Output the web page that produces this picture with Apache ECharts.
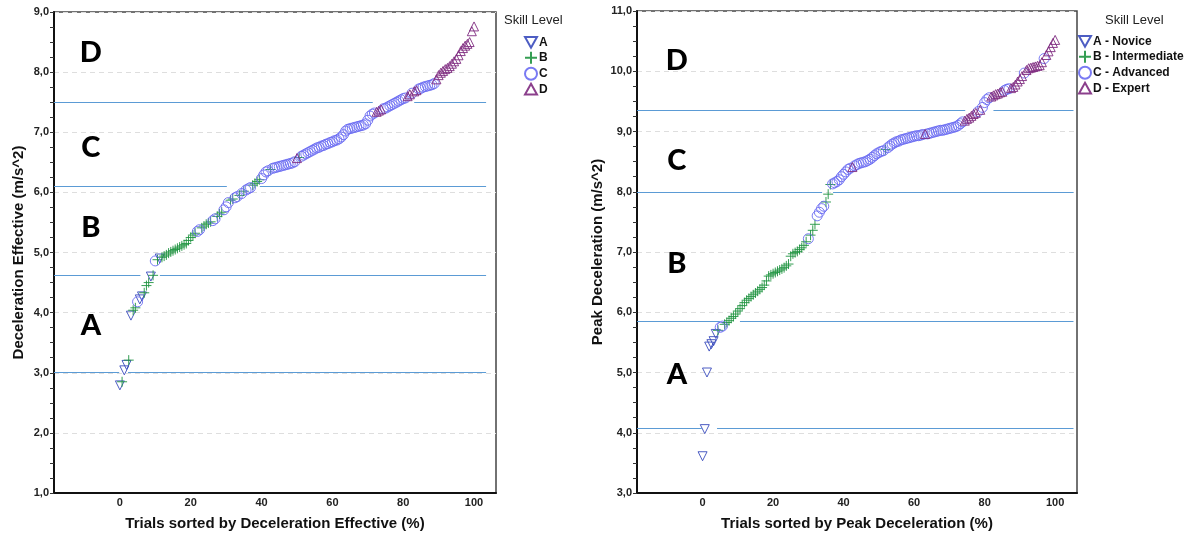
<!DOCTYPE html>
<html>
<head>
<meta charset="utf-8">
<title>Skill level thresholds</title>
<script src="https://cdn.jsdelivr.net/npm/echarts@6/dist/echarts.min.js"></script>
<style>
  html, body { margin: 0; padding: 0; background: #fff; }
  #chart { width: 1192px; height: 537px; }
</style>
</head>
<body>
<div id="chart"></div>
<script>
// ---- Data: trials sorted ascending; x is the trial's percent rank ----
const effValues = [
  2.79, 2.85, 3.04, 3.13, 3.21, 3.95, 4.04, 4.08, 4.18, 4.22,
  4.27, 4.33, 4.45, 4.50, 4.60, 4.62, 4.86, 4.88, 4.90, 4.92,
  4.94, 4.96, 4.99, 5.01, 5.03, 5.05, 5.07, 5.09, 5.11, 5.13,
  5.15, 5.20, 5.25, 5.29, 5.32, 5.35, 5.38, 5.41, 5.44, 5.47,
  5.49, 5.51, 5.53, 5.56, 5.60, 5.64, 5.67, 5.71, 5.76, 5.83,
  5.87, 5.89, 5.91, 5.93, 5.95, 5.98, 6.02, 6.04, 6.06, 6.08,
  6.12, 6.15, 6.18, 6.21, 6.23, 6.29, 6.34, 6.36, 6.38, 6.40,
  6.41, 6.42, 6.43, 6.44, 6.45, 6.46, 6.47, 6.48, 6.49, 6.51,
  6.57, 6.58, 6.60, 6.62, 6.64, 6.66, 6.68, 6.70, 6.72, 6.74,
  6.75, 6.77, 6.78, 6.80, 6.81, 6.83, 6.84, 6.86, 6.87, 6.89,
  6.92, 6.96, 7.02, 7.05, 7.06, 7.07, 7.08, 7.09, 7.10, 7.11,
  7.12, 7.14, 7.20, 7.27, 7.30, 7.32, 7.34, 7.36, 7.38, 7.39,
  7.40, 7.42, 7.44, 7.46, 7.48, 7.50, 7.52, 7.54, 7.56, 7.57,
  7.60, 7.63, 7.65, 7.68, 7.70, 7.72, 7.73, 7.75, 7.76, 7.77,
  7.78, 7.79, 7.81, 7.88, 7.95, 7.99, 8.02, 8.05, 8.07, 8.10,
  8.14, 8.18, 8.22, 8.28, 8.35, 8.40, 8.44, 8.47, 8.50, 8.68,
  8.76
];
const effLevels = [
  'ABAAB', 'ABBCAABBBAB', 'CBA', 'BBBBBBBBBBBBBBBB', 'CC', 'BBBBB', 'CC', 'BBB',
  'CCC', 'BB', 'CC', 'BCB', 'CCC', 'BBBB', 'CCCC', 'B', 'CCCCCCCCCCC', 'DB',
  'CCCCCCCCCCCCCCCCCCCCCCCCCCCCCCCCCC', 'DDD', 'CCCCCCCCCCC', 'DDCDD', 'CCCCCCCC',
  'DDDDDDDDDDDDDDDDDD'
].join('');

const peakValues = [
  3.61, 4.06, 5.00, 5.43, 5.47, 5.52, 5.64, 5.70, 5.75, 5.77,
  5.80, 5.83, 5.86, 5.90, 5.93, 5.97, 6.02, 6.06, 6.11, 6.16,
  6.20, 6.23, 6.26, 6.29, 6.32, 6.35, 6.38, 6.41, 6.45, 6.52,
  6.60, 6.62, 6.64, 6.66, 6.68, 6.70, 6.72, 6.74, 6.77, 6.80,
  6.93, 6.97, 6.99, 7.01, 7.04, 7.07, 7.11, 7.17, 7.22, 7.28,
  7.36, 7.46, 7.60, 7.66, 7.72, 7.76, 7.83, 7.96, 8.12, 8.13,
  8.15, 8.17, 8.20, 8.25, 8.29, 8.33, 8.37, 8.39, 8.41, 8.43,
  8.45, 8.47, 8.48, 8.49, 8.50, 8.52, 8.54, 8.57, 8.60, 8.63,
  8.65, 8.67, 8.68, 8.70, 8.73, 8.76, 8.79, 8.81, 8.83, 8.84,
  8.86, 8.87, 8.88, 8.89, 8.90, 8.91, 8.92, 8.93, 8.93, 8.94,
  8.95, 8.96, 8.96, 8.97, 8.98, 8.99, 9.00, 9.01, 9.02, 9.02,
  9.03, 9.04, 9.05, 9.06, 9.07, 9.08, 9.10, 9.13, 9.16, 9.18,
  9.21, 9.23, 9.26, 9.29, 9.31, 9.33, 9.36, 9.40, 9.48, 9.53,
  9.56, 9.58, 9.60, 9.62, 9.63, 9.65, 9.66, 9.68, 9.70, 9.71,
  9.72, 9.74, 9.78, 9.83, 9.87, 9.92, 9.97, 10.02, 10.05, 10.06,
  10.07, 10.08, 10.09, 10.10, 10.15, 10.21, 10.27, 10.33, 10.40, 10.47,
  10.52
];
const peakLevels = [
  'AAAAAAA', 'B', 'CC', 'BBBBBBBBBBBBBBBBBBBBBBBBBBBBBBBBBBBBBB', 'C', 'BBB', 'CCCC', 'BBB',
  'CCCCCCCCC', 'D', 'CCCCCCCCCCCCCC', 'B', 'CCCCCCCCCCCCCCCCC', 'D', 'CCCCCCCCCCCCCCCCC',
  'DDDDDD', 'C', 'D', 'CCCC', 'DDDDDD', 'CCC', 'DDDDDD', 'C', 'DDDDDDDD', 'C', 'DDDDD'
].join('');

// Skill level codes and their legend names in each panel
const levelCodes = ['A', 'B', 'C', 'D'];
const effLegendNames = ['A', 'B', 'C', 'D'];
const peakLegendNames = ['A - Novice', 'B - Intermediate', 'C - Advanced', 'D - Expert'];

// Cut-off values separating the skill bands
const effCutoffs = [3.01, 4.62, 6.10, 7.50];
const peakCutoffs = [4.07, 5.85, 8.00, 9.35];

// Tick labels
const xTicks = [0, 20, 40, 60, 80, 100];

// ---- Styling ----
const levelStyle = {
  A: { symbol: 'path://M0,0L10,0L5,9Z', color: '#3a4bbd', size: 9 },
  B: { symbol: 'path://M5,0L5,10M0,5L10,5', color: '#1f9440', size: 10 },
  C: { symbol: 'circle', color: '#6a6cf2', size: 10 },
  D: { symbol: 'path://M5,0L10,9L0,9Z', color: '#7e2a80', size: 9 }
};
const refLineColor = '#5b9bd5';
const X_MIN = -18.6, X_MAX = 106.2;

// Where each cut-off line is interrupted (percent-rank units)
const effGaps = [[-0.2, 2.3], [5.8, 11.3], [30.2, 39.5], [71.4, 83.1]];
const effLineEnd = 103.4;
const peakGaps = [[-0.2, 4.1], [4.9, 10.6], [33.9, 37.0], [74.5, 82.5]];
const peakLineEnd = 105.2;

// Band letters: data-space anchor for each panel
const bandLetterX = { eff: -8.2, peak: -7.3 };
const effBandY = [3.79, 5.42, 6.75, 8.32];
const peakBandY = [4.96, 6.81, 8.52, 10.18];

function rankPoints(values, levels, code) {
  const n = values.length;
  const pts = [];
  for (let i = 0; i < n; i++) {
    if (levels[i] === code) pts.push([i * 100 / (n - 1), values[i]]);
  }
  return pts;
}

function levelSeries(values, levels, names, axisIdx) {
  return levelCodes.map((code, k) => {
    const st = levelStyle[code];
    return {
      type: 'scatter',
      name: names[k],
      xAxisIndex: axisIdx,
      yAxisIndex: axisIdx,
      symbol: st.symbol,
      symbolSize: st.size,
      z: 3,
      itemStyle: { color: 'rgba(255,255,255,0)', borderColor: st.color, borderWidth: 1, opacity: 0.9 },
      data: rankPoints(values, levels, code)
    };
  });
}

function cutoffSeries(cutoffs, gaps, lineEnd, axisIdx) {
  const segs = [];
  cutoffs.forEach((v, k) => {
    const g = gaps[k];
    segs.push([{ coord: [X_MIN, v] }, { coord: [g[0], v] }]);
    segs.push([{ coord: [g[1], v] }, { coord: [lineEnd, v] }]);
  });
  return {
    type: 'scatter',
    xAxisIndex: axisIdx,
    yAxisIndex: axisIdx,
    data: [],
    silent: true,
    z: 1,
    markLine: {
      silent: true,
      symbol: ['none', 'none'],
      label: { show: false },
      lineStyle: { color: refLineColor, width: 1.2, type: 'solid' },
      data: segs
    }
  };
}

function bandLetterSeries(xv, ys, axisIdx) {
  return {
    type: 'scatter',
    xAxisIndex: axisIdx,
    yAxisIndex: axisIdx,
    symbolSize: 0,
    silent: true,
    z: 2,
    itemStyle: { opacity: 1 },
    label: {
      show: true,
      position: 'inside',
      formatter: p => p.name,
      fontFamily: 'Lato',
      fontWeight: 900,
      fontSize: 29,
      color: '#000',
      opacity: 1,
      textBorderWidth: 0,
      textBorderColor: 'transparent'
    },
    data: levelCodes.map((c, k) => ({ name: c, value: [xv, ys[k]] }))
  };
}

const axisFont = { fontFamily: 'Liberation Sans', fontWeight: 'bold' };
const fmtComma = v => v.toFixed(1).replace('.', ',');

function xAxisCfg(gridIndex, name) {
  return {
    type: 'value', gridIndex, min: X_MIN, max: X_MAX,
    name, nameLocation: 'middle', nameGap: 23,
    nameTextStyle: Object.assign({ fontSize: 15, color: '#111' }, axisFont),
    axisLine: { show: true, onZero: false, lineStyle: { color: '#111', width: 2 } },
    axisTick: { show: false },
    splitLine: { show: false },
    axisLabel: Object.assign({ customValues: xTicks, fontSize: 11, color: '#222', margin: 4 }, axisFont)
  };
}

function yAxisCfg(gridIndex, min, max, name, gap) {
  return {
    type: 'value', gridIndex, min, max, interval: 1,
    name, nameLocation: 'middle', nameGap: gap,
    nameTextStyle: Object.assign({ fontSize: 15, color: '#111' }, axisFont),
    axisLine: { show: true, onZero: false, lineStyle: { color: '#111', width: 2 } },
    axisTick: { show: true, length: 4, lineStyle: { color: '#333' } },
    minorTick: { show: true, splitNumber: 4, length: 4, lineStyle: { color: '#333' } },
    splitLine: { show: true, lineStyle: { color: '#dedede', type: [5, 4], width: 1 } },
    axisLabel: Object.assign({ formatter: fmtComma, fontSize: 11, color: '#222', margin: 5 }, axisFont)
  };
}

function legendCfg(names, left, top) {
  return {
    data: names, orient: 'vertical', left, top,
    itemWidth: 12, itemHeight: 12, itemGap: 2, padding: 0,
    selectedMode: false,
    textStyle: { fontFamily: 'Liberation Sans', fontWeight: 'bold', fontSize: 12, color: '#111', padding: [0, 0, 0, -3] }
  };
}

const chart = echarts.init(document.getElementById('chart'), null, { renderer: 'canvas' });
chart.setOption({
  animation: false,
  backgroundColor: '#fff',
  title: [
    { text: 'Skill Level', left: 504, top: 14, padding: 0,
      textStyle: { fontFamily: 'Liberation Sans', fontSize: 13, fontWeight: 'normal', color: '#222' } },
    { text: 'Skill Level', left: 1105, top: 14, padding: 0,
      textStyle: { fontFamily: 'Liberation Sans', fontSize: 13, fontWeight: 'normal', color: '#222' } }
  ],
  legend: [
    legendCfg(effLegendNames, 524, 36),
    legendCfg(peakLegendNames, 1078, 35)
  ],
  grid: [
    { left: 54, top: 12, width: 442, height: 481, show: true, borderColor: '#444', borderWidth: 1.5, backgroundColor: 'transparent' },
    { left: 637, top: 11, width: 440, height: 482, show: true, borderColor: '#444', borderWidth: 1.5, backgroundColor: 'transparent' }
  ],
  xAxis: [
    xAxisCfg(0, 'Trials sorted by Deceleration Effective (%)'),
    xAxisCfg(1, 'Trials sorted by Peak Deceleration (%)')
  ],
  yAxis: [
    yAxisCfg(0, 1, 9, 'Deceleration Effective (m/s^2)', 28),
    yAxisCfg(1, 3, 11, 'Peak Deceleration (m/s^2)', 32)
  ],
  series: [
    cutoffSeries(effCutoffs, effGaps, effLineEnd, 0),
    cutoffSeries(peakCutoffs, peakGaps, peakLineEnd, 1),
    bandLetterSeries(bandLetterX.eff, effBandY, 0),
    bandLetterSeries(bandLetterX.peak, peakBandY, 1),
    ...levelSeries(effValues, effLevels, effLegendNames, 0),
    ...levelSeries(peakValues, peakLevels, peakLegendNames, 1)
  ]
});
</script>
</body>
</html>
